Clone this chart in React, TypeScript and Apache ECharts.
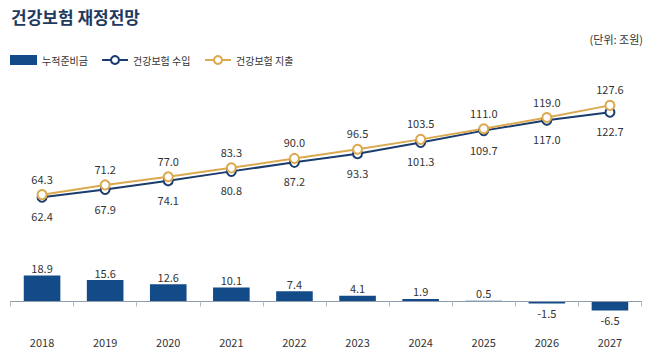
import React, { useEffect, useRef } from "react";
import * as echarts from "echarts";

const categories = ["2018", "2019", "2020", "2021", "2022", "2023", "2024", "2025", "2026", "2027"];
const reserveFund = [18.9, 15.6, 12.6, 10.1, 7.4, 4.1, 1.9, 0.5, -1.5, -6.5];
const income = [62.4, 67.9, 74.1, 80.8, 87.2, 93.3, 101.3, 109.7, 117.0, 122.7];
const expense = [64.3, 71.2, 77.0, 83.3, 90.0, 96.5, 103.5, 111.0, 119.0, 127.6];

const FONT = "'Noto Sans CJK KR', 'Noto Sans', sans-serif";
const NAVY = "#1b3d6d";
const GOLD = "#dba94f";
const BAR = "#134a88";

export default function App() {
  const ref = useRef<HTMLDivElement>(null);
  useEffect(() => {
    if (!ref.current) return;
    const chart = echarts.init(ref.current, null, { renderer: "svg" });
    const legendBase = {
      top: 50,
      itemWidth: 27,
      itemHeight: 10,
      textStyle: { fontFamily: FONT, fontSize: 10, color: "#333" },
    };
    chart.setOption({
      animation: false,
      textStyle: { fontFamily: FONT },
      title: {
        text: "건강보험 재정전망",
        left: 6,
        top: 3,
        textStyle: { fontFamily: FONT, fontSize: 17, fontWeight: "bold", color: "#1f3a60" },
      },
      graphic: [
        {
          type: "text",
          right: 7,
          top: 33,
          style: { text: "(단위: 조원)", font: `11px ${FONT}`, fill: "#333" },
        },
      ],
      legend: [
        { ...legendBase, left: 5, data: [{ name: "누적준비금", icon: "rect" }] },
        { ...legendBase, left: 96, itemWidth: 26, data: [{ name: "건강보험 수입" }] },
        { ...legendBase, left: 199, itemWidth: 26, data: [{ name: "건강보험 지출" }] },
      ],
      grid: [
        { left: 10.5, right: 8.5, top: 87.9, height: 197.4, containLabel: false },
        { left: 10.5, right: 8.5, top: 274, height: 41.25, containLabel: false },
      ],
      xAxis: [
        {
          type: "category",
          gridIndex: 0,
          data: categories,
          show: false,
        },
        {
          type: "category",
          gridIndex: 1,
          data: categories,
          z: 5,
          axisLine: { onZero: true, lineStyle: { color: "#8e9bab", width: 1.2 } },
          axisTick: { show: true, length: 5, lineStyle: { color: "#b8b8b8" } },
          axisLabel: { margin: 21, fontSize: 11, color: "#333", fontFamily: FONT },
        },
      ],
      yAxis: [
        { type: "value", gridIndex: 0, min: 0, max: 140, show: false },
        { type: "value", gridIndex: 1, min: -10, max: 20, show: false },
      ],
      series: [
        {
          name: "누적준비금",
          type: "bar",
          xAxisIndex: 1,
          yAxisIndex: 1,
          barWidth: "58%",
          itemStyle: { color: BAR },
          data: reserveFund.map((v) => ({
            value: v,
            label: { position: v >= 0 ? "top" : "bottom", distance: v >= 0 ? 2 : 4 },
          })),
          label: {
            show: true,
            fontSize: 11,
            color: "#333",
            fontFamily: FONT,
            formatter: (p: any) => Number(p.value).toFixed(1),
          },
        },
        {
          name: "건강보험 수입",
          type: "line",
          xAxisIndex: 0,
          yAxisIndex: 0,
          data: income,
          symbol: "circle",
          symbolSize: 9,
          lineStyle: { color: NAVY, width: 2 },
          itemStyle: { color: "#fff", borderColor: NAVY, borderWidth: 2 },
          label: {
            show: true,
            position: "bottom",
            distance: 8,
            fontSize: 11,
            color: "#333",
            fontFamily: FONT,
            formatter: (p: any) => Number(p.value).toFixed(1),
          },
        },
        {
          name: "건강보험 지출",
          type: "line",
          xAxisIndex: 0,
          yAxisIndex: 0,
          data: expense,
          symbol: "circle",
          symbolSize: 9,
          lineStyle: { color: GOLD, width: 2 },
          itemStyle: { color: "#fff", borderColor: GOLD, borderWidth: 2 },
          label: {
            show: true,
            position: "top",
            distance: 5,
            fontSize: 11,
            color: "#333",
            fontFamily: FONT,
            formatter: (p: any) => Number(p.value).toFixed(1),
          },
        },
      ],
    });
    return () => chart.dispose();
  }, []);
  return <div ref={ref} style={{ width: 650, height: 359, position: "absolute", left: 0, top: 0 }} />;
}
